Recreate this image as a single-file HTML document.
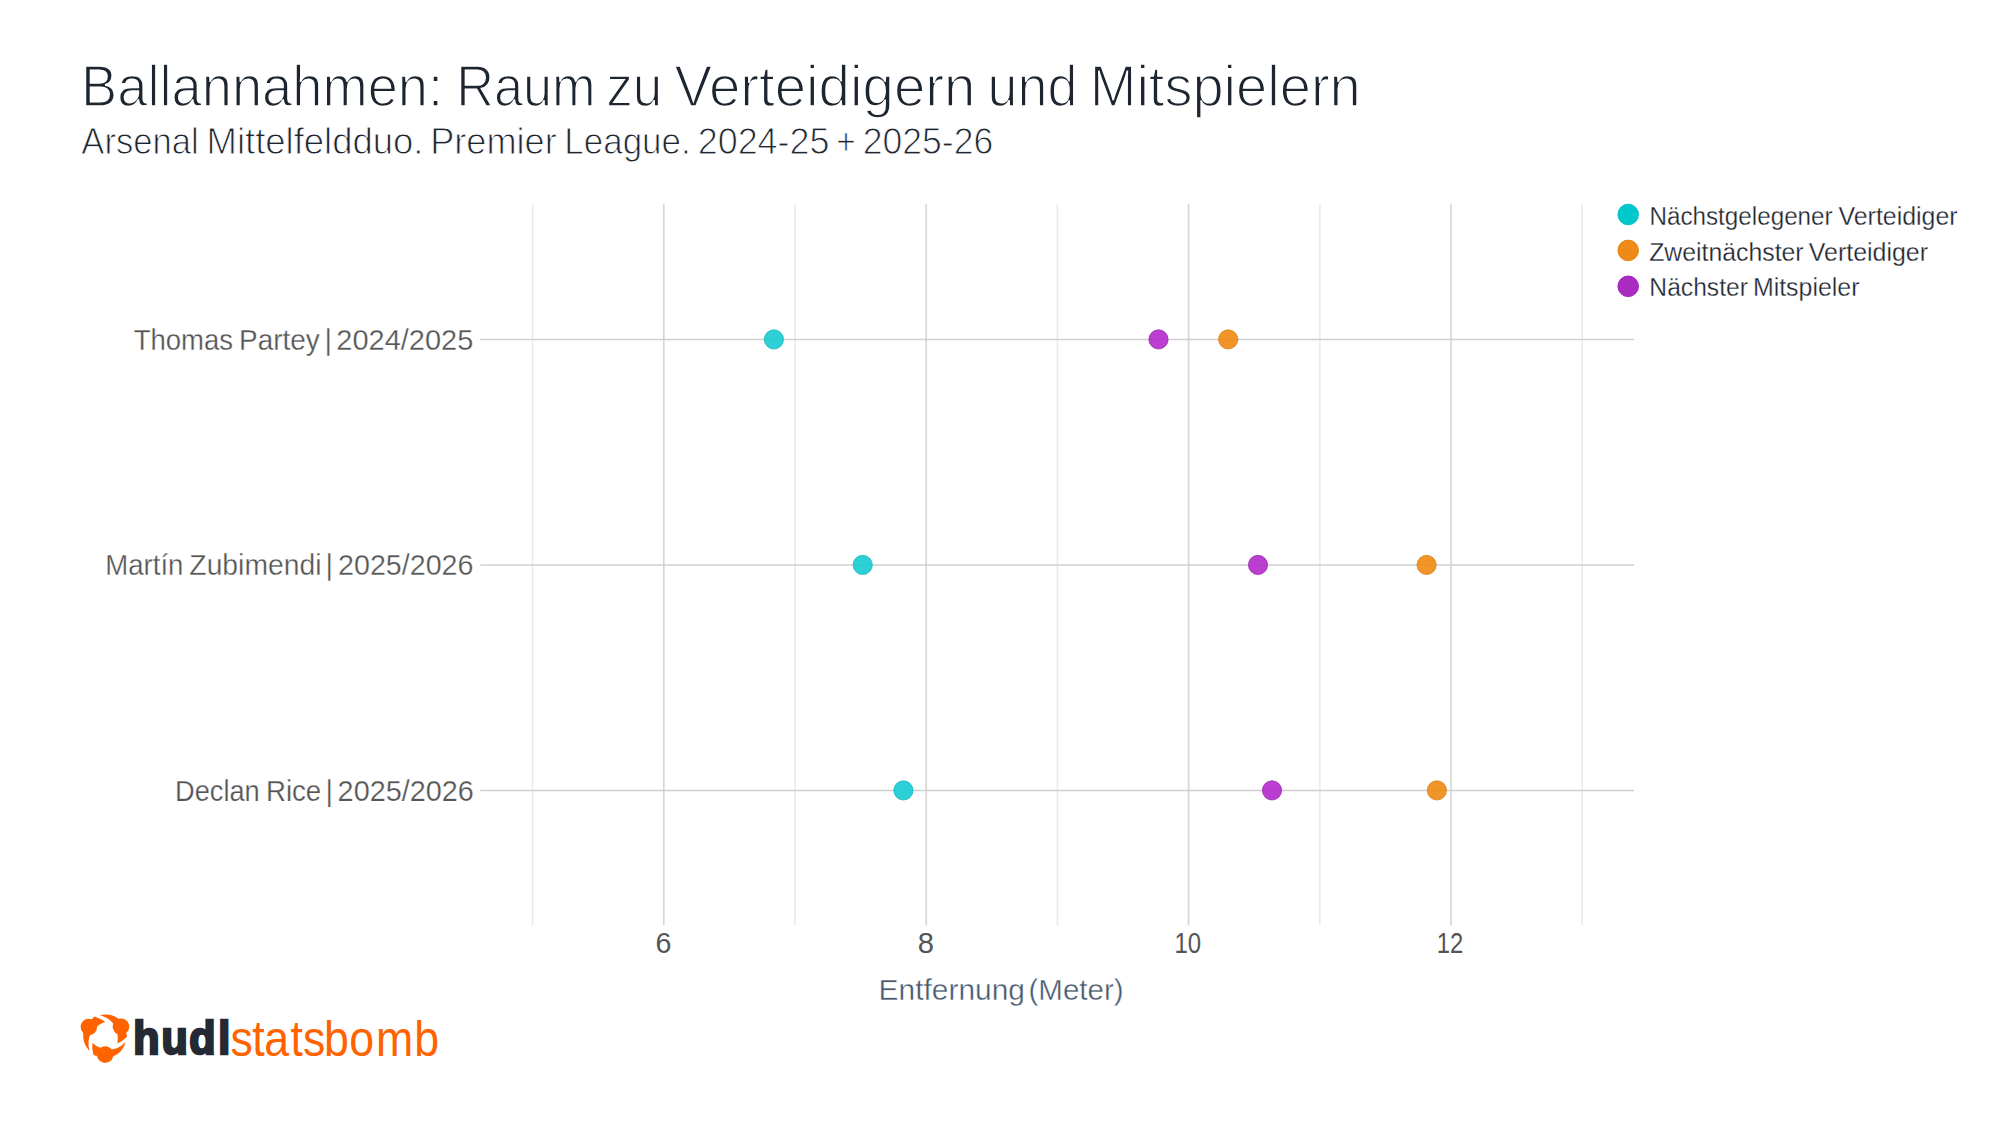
<!DOCTYPE html>
<html lang="de"><head><meta charset="utf-8"><title>Ballannahmen: Raum zu Verteidigern und Mitspielern</title>
<style>html,body{margin:0;padding:0;background:#fff;}body{width:2000px;height:1125px;overflow:hidden;}svg{display:block;}text{font-family:"Liberation Sans",sans-serif;}</style></head><body>
<svg width="2000" height="1125" viewBox="0 0 2000 1125">
<rect width="2000" height="1125" fill="#ffffff"/>
<g fill="none">
<line x1="532.6" x2="532.6" y1="204.3" y2="925.2" stroke="#ebebeb" stroke-width="1.67"/>
<line x1="795.0" x2="795.0" y1="204.3" y2="925.2" stroke="#ebebeb" stroke-width="1.67"/>
<line x1="1057.4" x2="1057.4" y1="204.3" y2="925.2" stroke="#ebebeb" stroke-width="1.67"/>
<line x1="1319.8" x2="1319.8" y1="204.3" y2="925.2" stroke="#ebebeb" stroke-width="1.67"/>
<line x1="1582.2" x2="1582.2" y1="204.3" y2="925.2" stroke="#ebebeb" stroke-width="1.67"/>
<line x1="663.8" x2="663.8" y1="204.3" y2="925.2" stroke="#d6d6d6" stroke-width="1.67"/>
<line x1="926.2" x2="926.2" y1="204.3" y2="925.2" stroke="#d6d6d6" stroke-width="1.67"/>
<line x1="1188.6" x2="1188.6" y1="204.3" y2="925.2" stroke="#d6d6d6" stroke-width="1.67"/>
<line x1="1451.0" x2="1451.0" y1="204.3" y2="925.2" stroke="#d6d6d6" stroke-width="1.67"/>
<line x1="480.2" x2="1634.0" y1="339.5" y2="339.5" stroke="#cfcfcf" stroke-width="1.67"/>
<line x1="480.2" x2="1634.0" y1="565.0" y2="565.0" stroke="#cfcfcf" stroke-width="1.67"/>
<line x1="480.2" x2="1634.0" y1="790.5" y2="790.5" stroke="#cfcfcf" stroke-width="1.67"/>
</g>
<circle cx="773.9" cy="339.4" r="9.6" fill="#16cbd1" fill-opacity="0.9" stroke="#10b4ba" stroke-width="1" stroke-opacity="0.75"/>
<circle cx="1158.5" cy="339.4" r="9.6" fill="#b229cb" fill-opacity="0.9" stroke="#962aa8" stroke-width="1" stroke-opacity="0.75"/>
<circle cx="1228.2" cy="339.4" r="9.6" fill="#ef8a12" fill-opacity="0.9" stroke="#d87c14" stroke-width="1" stroke-opacity="0.75"/>
<circle cx="862.7" cy="564.9" r="9.6" fill="#16cbd1" fill-opacity="0.9" stroke="#10b4ba" stroke-width="1" stroke-opacity="0.75"/>
<circle cx="1258.0" cy="564.9" r="9.6" fill="#b229cb" fill-opacity="0.9" stroke="#962aa8" stroke-width="1" stroke-opacity="0.75"/>
<circle cx="1426.6" cy="564.9" r="9.6" fill="#ef8a12" fill-opacity="0.9" stroke="#d87c14" stroke-width="1" stroke-opacity="0.75"/>
<circle cx="903.4" cy="790.4" r="9.6" fill="#16cbd1" fill-opacity="0.9" stroke="#10b4ba" stroke-width="1" stroke-opacity="0.75"/>
<circle cx="1272.0" cy="790.4" r="9.6" fill="#b229cb" fill-opacity="0.9" stroke="#962aa8" stroke-width="1" stroke-opacity="0.75"/>
<circle cx="1436.9" cy="790.4" r="9.6" fill="#ef8a12" fill-opacity="0.9" stroke="#d87c14" stroke-width="1" stroke-opacity="0.75"/>
<circle cx="1628.2" cy="214.5" r="10.3" fill="#00c8cc" stroke="#00c2c8" stroke-width="1"/>
<circle cx="1628.2" cy="250.4" r="10.3" fill="#ee8a17" stroke="#ea8510" stroke-width="1"/>
<circle cx="1628.2" cy="286.3" r="10.3" fill="#a92bbf" stroke="#a31fc0" stroke-width="1"/>
<text id="title" y="105.90" font-size="58.12" fill="#1d2530" stroke="#ffffff" stroke-width="1.6"><tspan x="81.09" textLength="361.98" lengthAdjust="spacingAndGlyphs">Ballannahmen:</tspan> <tspan x="456.17" textLength="139.42" lengthAdjust="spacingAndGlyphs">Raum</tspan> <tspan x="606.24" textLength="56.13" lengthAdjust="spacingAndGlyphs">zu</tspan> <tspan x="674.41" textLength="300.98" lengthAdjust="spacingAndGlyphs">Verteidigern</tspan> <tspan x="987.6" textLength="89.79" lengthAdjust="spacingAndGlyphs">und</tspan> <tspan x="1089.68" textLength="271.09" lengthAdjust="spacingAndGlyphs">Mitspielern</tspan></text>
<text id="sub" y="154.28" font-size="37.48" fill="#1d2530" stroke="#ffffff" stroke-width="0.96"><tspan x="81.35" textLength="117.32" lengthAdjust="spacingAndGlyphs">Arsenal</tspan> <tspan x="206.59" textLength="216.88" lengthAdjust="spacingAndGlyphs">Mittelfeldduo.</tspan> <tspan x="430.24" textLength="126.48" lengthAdjust="spacingAndGlyphs">Premier</tspan> <tspan x="564.27" textLength="126.5" lengthAdjust="spacingAndGlyphs">League.</tspan> <tspan x="697.71" textLength="131.73" lengthAdjust="spacingAndGlyphs">2024-25</tspan> <tspan x="836.26" textLength="19.43" lengthAdjust="spacingAndGlyphs">+</tspan> <tspan x="862.75" textLength="130.41" lengthAdjust="spacingAndGlyphs">2025-26</tspan></text>
<text id="lg1" y="224.73" font-size="24.94" fill="#1d2530" stroke="#ffffff" stroke-width="0.27"><tspan x="1649.42" textLength="183.25" lengthAdjust="spacingAndGlyphs">Nächstgelegener</tspan> <tspan x="1838.56" textLength="119.03" lengthAdjust="spacingAndGlyphs">Verteidiger</tspan></text>
<text id="lg2" y="260.53" font-size="24.91" fill="#1d2530" stroke="#ffffff" stroke-width="0.255"><tspan x="1649.19" textLength="154.4" lengthAdjust="spacingAndGlyphs">Zweitnächster</tspan> <tspan x="1808.84" textLength="119.1" lengthAdjust="spacingAndGlyphs">Verteidiger</tspan></text>
<text id="lg3" y="296.34" font-size="24.95" fill="#1d2530" stroke="#ffffff" stroke-width="0.28"><tspan x="1649.37" textLength="98.51" lengthAdjust="spacingAndGlyphs">Nächster</tspan> <tspan x="1752.89" textLength="106.59" lengthAdjust="spacingAndGlyphs">Mitspieler</tspan></text>
<text id="y1" y="349.53" font-size="28.77" fill="#555555" stroke="#ffffff" stroke-width="0.27"><tspan x="133.66" textLength="99.4" lengthAdjust="spacingAndGlyphs">Thomas</tspan> <tspan x="239.1" textLength="80.66" lengthAdjust="spacingAndGlyphs">Partey</tspan> <tspan x="324.38">|</tspan> <tspan x="336.37" textLength="136.88" lengthAdjust="spacingAndGlyphs">2024/2025</tspan></text>
<text id="y2" y="575.04" font-size="28.79" fill="#555555" stroke="#ffffff" stroke-width="0.285"><tspan x="105.25" textLength="78.18" lengthAdjust="spacingAndGlyphs">Martín</tspan> <tspan x="189.36" textLength="132.07" lengthAdjust="spacingAndGlyphs">Zubimendi</tspan> <tspan x="325.58">|</tspan> <tspan x="338.05" textLength="135.43" lengthAdjust="spacingAndGlyphs">2025/2026</tspan></text>
<text id="y3" y="800.52" font-size="28.73" fill="#555555" stroke="#ffffff" stroke-width="0.25"><tspan x="175.04" textLength="84.73" lengthAdjust="spacingAndGlyphs">Declan</tspan> <tspan x="265.99" textLength="55.22" lengthAdjust="spacingAndGlyphs">Rice</tspan> <tspan x="325.47">|</tspan> <tspan x="337.64" textLength="136.22" lengthAdjust="spacingAndGlyphs">2025/2026</tspan></text>
<text id="t6" y="953.00" font-size="29.32" fill="#555555"><tspan x="655.59" textLength="15.93" lengthAdjust="spacingAndGlyphs">6</tspan></text>
<text id="t8" y="953.00" font-size="29.32" fill="#555555"><tspan x="917.65" textLength="16.23" lengthAdjust="spacingAndGlyphs">8</tspan></text>
<text id="t10" y="953.00" font-size="29.32" fill="#555555"><tspan x="1174.53" textLength="26.69" lengthAdjust="spacingAndGlyphs">10</tspan></text>
<text id="t12" y="953.00" font-size="29.32" fill="#555555"><tspan x="1436.69" textLength="26.54" lengthAdjust="spacingAndGlyphs">12</tspan></text>
<text id="xt" y="1000.10" font-size="29.25" fill="#46586c" stroke="#ffffff" stroke-width="0.39"><tspan x="878.64" textLength="146.36" lengthAdjust="spacingAndGlyphs">Entfernung</tspan> <tspan x="1028.5" textLength="95.06" lengthAdjust="spacingAndGlyphs">(Meter)</tspan></text>
<g transform="translate(70,1005) scale(0.057757)" fill="#ff6300"><g transform="rotate(0 606.0 538.0)"><path d="M612,290 Q521,226 432,204 Q410,202 385,240 L230,470 Q218,560 245,650 Q280,745 340,795 Q312,700 322,620 Q330,560 352,515 L470,368 Q530,318 612,290 Z"/><circle cx="327" cy="380" r="143"/></g><g transform="rotate(120 606.0 538.0)"><path d="M612,290 Q521,226 432,204 Q410,202 385,240 L230,470 Q218,560 245,650 Q280,745 340,795 Q312,700 322,620 Q330,560 352,515 L470,368 Q530,318 612,290 Z"/><circle cx="327" cy="380" r="143"/></g><g transform="rotate(240 606.0 538.0)"><path d="M612,290 Q521,226 432,204 Q410,202 385,240 L230,470 Q218,560 245,650 Q280,745 340,795 Q312,700 322,620 Q330,560 352,515 L470,368 Q530,318 612,290 Z"/><circle cx="327" cy="380" r="143"/></g></g>
<text id="hudl" transform="scale(0.924,1)" x="144.16 174.75 204.78 236.10" y="1054.40" font-weight="bold" font-size="46.50" fill="#232a33" stroke="#232a33" stroke-width="2.6" stroke-linejoin="miter">hudl</text>
<text id="sb" transform="scale(0.8847,1)" x="260.46 285.08 298.76 328.25 342.63 366.21 394.75 425.06 468.27" y="1055.90" font-size="50.50" fill="#ff6300">statsbomb</text>
</svg></body></html>
